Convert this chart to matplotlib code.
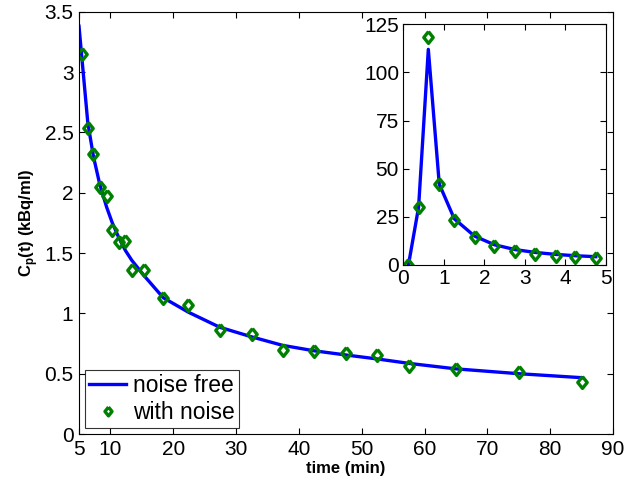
#!/usr/bin/env python3

import numpy as np
import matplotlib
matplotlib.use( 'Agg' )
import matplotlib.pyplot as plt

plt.rcParams['font.family'] = ['Liberation Sans', 'DejaVu Sans']
plt.rcParams['mathtext.fontset'] = 'custom'
plt.rcParams['mathtext.rm'] = 'Liberation Sans'
plt.rcParams['mathtext.bf'] = 'Liberation Sans:bold'

# main panel: noise-free curve
tFree = [ 5.0, 5.4, 6.4, 7.3, 8.3, 9.4, 10.3, 11.4, 12.4, 13.4, 15.4, 18.4,
          22.4, 27.4, 32.5, 37.4, 42.4, 47.5, 52.5, 57.6, 65.0, 75.0, 85.0 ]
cFree = [ 3.38, 3.15, 2.58, 2.30, 2.07, 1.88, 1.75, 1.62, 1.52, 1.44, 1.31,
          1.13, 1.01, 0.885, 0.805, 0.735, 0.69, 0.655, 0.622, 0.585, 0.54,
          0.50, 0.467 ]

# main panel: noisy samples
tNoise = [ 5.4, 6.4, 7.3, 8.3, 9.4, 10.3, 11.4, 12.4, 13.4, 15.4, 18.4, 22.4,
           27.4, 32.5, 37.4, 42.4, 47.5, 52.5, 57.6, 65.0, 75.0, 85.0 ]
cNoise = [ 3.15, 2.54, 2.32, 2.05, 1.97, 1.69, 1.59, 1.60, 1.36, 1.36, 1.13,
           1.07, 0.86, 0.83, 0.70, 0.69, 0.67, 0.655, 0.56, 0.54, 0.51, 0.43 ]

# inset: first 5 minutes
tIn     = [ 0.13, 0.38, 0.62, 0.89, 1.26, 1.76, 2.25, 2.76, 3.26, 3.76, 4.25, 4.75 ]
cInFree = [ 0.0, 30.0, 112.0, 42.0, 24.0, 15.0, 10.5, 8.0, 6.5, 5.5, 4.8, 4.3 ]
cInNois = [ 0.0, 30.2, 118.4, 42.1, 23.1, 14.3, 9.6, 7.0, 5.6, 4.5, 4.4, 3.8 ]

blue  = '#0000ff'
green = '#008000'

# matlab-style diamond, a bit taller than wide
dmd = [ ( 0, 1 ), ( 0.8, 0 ), ( 0, -1 ), ( -0.8, 0 ), ( 0, 1 ) ]

fig = plt.figure( figsize = ( 6.28, 4.87 ), dpi = 100 )
ax  = fig.add_axes( [ 0.1258, 0.1088, 0.8503, 0.8671 ] )

ax.plot( tFree, cFree, c = blue, lw = 2.4, label = 'noise free' )
ax.plot( tNoise, cNoise, ls = 'none', marker = dmd, ms = 8.5, mfc = 'none',
         mec = green, mew = 2.4, label = 'with noise' )

ax.set_xlim( 5, 90 )
ax.set_ylim( 0, 3.5 )
ax.set_xticks( [ 5, 10, 20, 30, 40, 50, 60, 70, 80, 90 ] )
ax.set_yticks( np.arange( 0, 3.51, 0.5 ) )
ax.set_xticklabels( [ '5', '10', '20', '30', '40', '50', '60', '70', '80', '90' ] )
ax.set_yticklabels( [ '0', '0.5', '1', '1.5', '2', '2.5', '3', '3.5' ] )
ax.tick_params( direction = 'in', top = True, right = True, length = 4,
                labelsize = 15, pad = 4 )
ax.set_xlabel( 'time (min)', fontsize = 12, fontweight = 'bold', labelpad = 2 )
ax.set_ylabel( r'C$_\mathbf{p}$(t) (kBq/ml)', fontsize = 12,
               fontweight = 'bold', labelpad = 3 )

leg = ax.legend( loc = 3, fontsize = 16.5, frameon = True, fancybox = False,
                 handlelength = 1.6, handletextpad = 0.3, borderpad = 0.2,
                 labelspacing = 0.15, borderaxespad = 0.25, markerscale = 0.75 )
leg.get_frame().set_edgecolor( 'k' )
leg.get_frame().set_linewidth( 0.8 )

axi = fig.add_axes( [ 0.642, 0.4559, 0.3228, 0.4942 ] )
axi.plot( tIn, cInFree, c = blue, lw = 2.4 )
axi.plot( tIn, cInNois, ls = 'none', marker = dmd, ms = 8.5, mfc = 'none',
          mec = green, mew = 2.4 )
axi.set_xlim( 0, 5 )
axi.set_ylim( 0, 125 )
axi.set_xticks( range( 6 ) )
axi.set_yticks( range( 0, 126, 25 ) )
axi.tick_params( direction = 'in', top = True, right = True, length = 4,
                 labelsize = 15, pad = 3 )

fig.savefig( 'out.png', dpi = 100 )
